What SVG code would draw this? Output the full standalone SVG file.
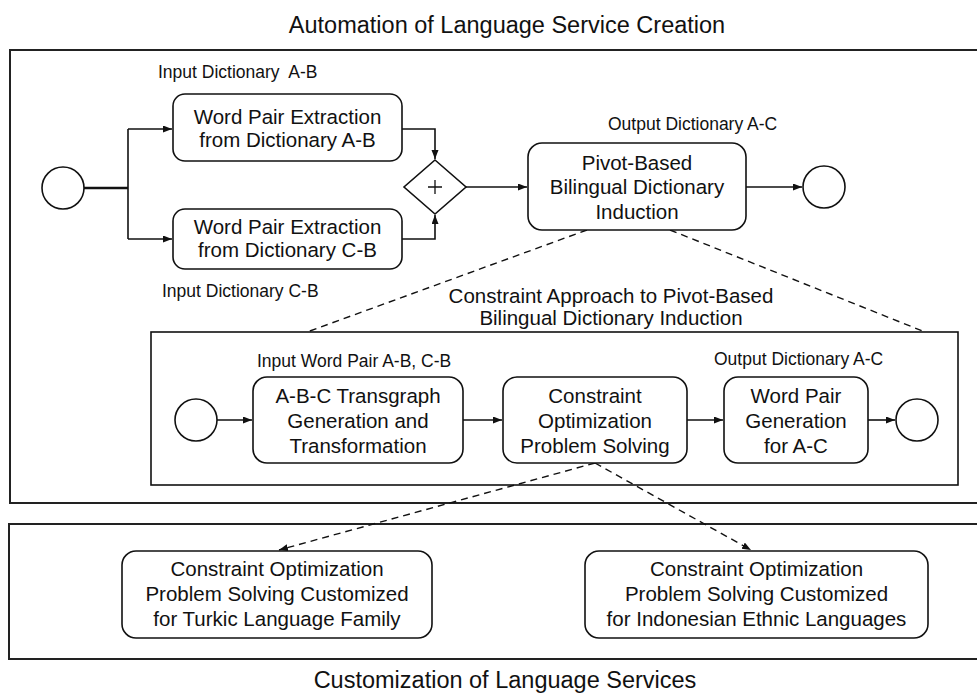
<svg xmlns="http://www.w3.org/2000/svg" width="977" height="693" viewBox="0 0 977 693">
<style>
text{font-family:"Liberation Sans",Arial,sans-serif;fill:#111}
.title{font-size:23.5px;text-anchor:middle}
.lbl{font-size:17.5px}
.nt{font-size:20.5px;text-anchor:middle}
.frame{fill:none;stroke:#222;stroke-width:2}
.node{fill:#fff;stroke:#111;stroke-width:1.6}
.ev{fill:#fff;stroke:#111;stroke-width:1.6}
.c{fill:none;stroke:#111;stroke-width:1.6}
.d{fill:none;stroke:#111;stroke-width:1.4;stroke-dasharray:7 5}
</style>
<defs>
<marker id="ah" markerUnits="userSpaceOnUse" markerWidth="10" markerHeight="8" refX="9" refY="3.5" orient="auto">
<path d="M0,0 L9,3.5 L0,7 z" fill="#111"/>
</marker>
</defs>
<rect width="977" height="693" fill="#fff"/>

<text class="title" x="507" y="33">Automation of Language Service Creation</text>
<rect class="frame" x="10" y="50" width="980" height="453"/>
<rect class="frame" x="9" y="524" width="980" height="135"/>
<text class="title" x="505" y="688">Customization of Language Services</text>

<text class="lbl" x="158" y="78">Input Dictionary&#160; A-B</text>
<text class="lbl" x="162" y="297">Input Dictionary C-B</text>
<text class="lbl" x="608" y="130">Output Dictionary A-C</text>
<text class="lbl" x="257" y="367">Input Word Pair A-B, C-B</text>
<text class="lbl" x="714" y="365">Output Dictionary A-C</text>

<g id="connectors">
<path d="M84,188 H128" fill="none" stroke="#111" stroke-width="2.6"/>
<path class="c" d="M128,129 V239"/>
<path class="c" d="M128,129 H172" marker-end="url(#ah)"/>
<path class="c" d="M128,239 H172" marker-end="url(#ah)"/>
<path class="c" d="M402,129 H435 V159" marker-end="url(#ah)"/>
<path class="c" d="M402,239 H435 V215" marker-end="url(#ah)"/>
<path class="c" d="M466,187 H527" marker-end="url(#ah)"/>
<path class="c" d="M746,187 H802" marker-end="url(#ah)"/>
<path class="d" d="M587,230 L307,332"/>
<path class="d" d="M670,230 L925,332"/>
<path class="c" d="M217,420 H252" marker-end="url(#ah)"/>
<path class="c" d="M463,420 H502" marker-end="url(#ah)"/>
<path class="c" d="M687,420 H723" marker-end="url(#ah)"/>
<path class="c" d="M868,420 H895" marker-end="url(#ah)"/>
<path class="d" d="M595,463 L279,550" marker-end="url(#ah)"/>
<path class="d" d="M595,463 L751,550" marker-end="url(#ah)"/>
</g>

<g id="start1"><circle class="ev" cx="63" cy="188" r="21"/></g>
<g id="extractAB">
<rect class="node" x="173" y="94" width="229" height="67" rx="12"/>
<text class="nt" x="287.5" y="124">Word Pair Extraction</text>
<text class="nt" x="287.5" y="147">from Dictionary A-B</text>
</g>
<g id="extractCB">
<rect class="node" x="173" y="209" width="229" height="60" rx="12"/>
<text class="nt" x="287.5" y="234">Word Pair Extraction</text>
<text class="nt" x="287.5" y="257">from Dictionary C-B</text>
</g>
<g id="gateway">
<path class="node" d="M435,160 L466,187 L435,214 L404,187 Z"/>
<path d="M428,187 H442 M435,180 V194" stroke="#111" stroke-width="1.3"/>
</g>
<g id="pivot">
<rect class="node" x="528" y="143" width="218" height="87" rx="14"/>
<text class="nt" x="637" y="170">Pivot-Based</text>
<text class="nt" x="637" y="194">Bilingual Dictionary</text>
<text class="nt" x="637" y="219">Induction</text>
</g>
<g id="end1"><circle class="ev" cx="824" cy="187" r="21"/></g>

<g id="constraintApproach">
<text class="nt" x="611" y="303">Constraint Approach to Pivot-Based</text>
<text class="nt" x="611" y="325">Bilingual Dictionary Induction</text>
<rect x="151" y="332" width="807" height="153" fill="none" stroke="#111" stroke-width="1.6"/>
</g>
<g id="start2"><circle class="ev" cx="196" cy="420" r="21"/></g>
<g id="transgraph">
<rect class="node" x="253" y="377" width="210" height="86" rx="14"/>
<text class="nt" x="358" y="403">A-B-C Transgraph</text>
<text class="nt" x="358" y="428">Generation and</text>
<text class="nt" x="358" y="453">Transformation</text>
</g>
<g id="cop">
<rect class="node" x="503" y="377" width="184" height="86" rx="14"/>
<text class="nt" x="595" y="403">Constraint</text>
<text class="nt" x="595" y="428">Optimization</text>
<text class="nt" x="595" y="453">Problem Solving</text>
</g>
<g id="wpg">
<rect class="node" x="724" y="377" width="144" height="86" rx="14"/>
<text class="nt" x="796" y="403">Word Pair</text>
<text class="nt" x="796" y="428">Generation</text>
<text class="nt" x="796" y="453">for A-C</text>
</g>
<g id="end2"><circle class="ev" cx="917" cy="420" r="21"/></g>

<g id="turkic">
<rect class="node" x="122" y="551" width="310" height="87" rx="14"/>
<text class="nt" x="277" y="576">Constraint Optimization</text>
<text class="nt" x="277" y="601">Problem Solving Customized</text>
<text class="nt" x="277" y="626">for Turkic Language Family</text>
</g>
<g id="indonesian">
<rect class="node" x="585" y="551" width="343" height="87" rx="14"/>
<text class="nt" x="756.5" y="576">Constraint Optimization</text>
<text class="nt" x="756.5" y="601">Problem Solving Customized</text>
<text class="nt" x="756.5" y="626">for Indonesian Ethnic Languages</text>
</g>
</svg>
